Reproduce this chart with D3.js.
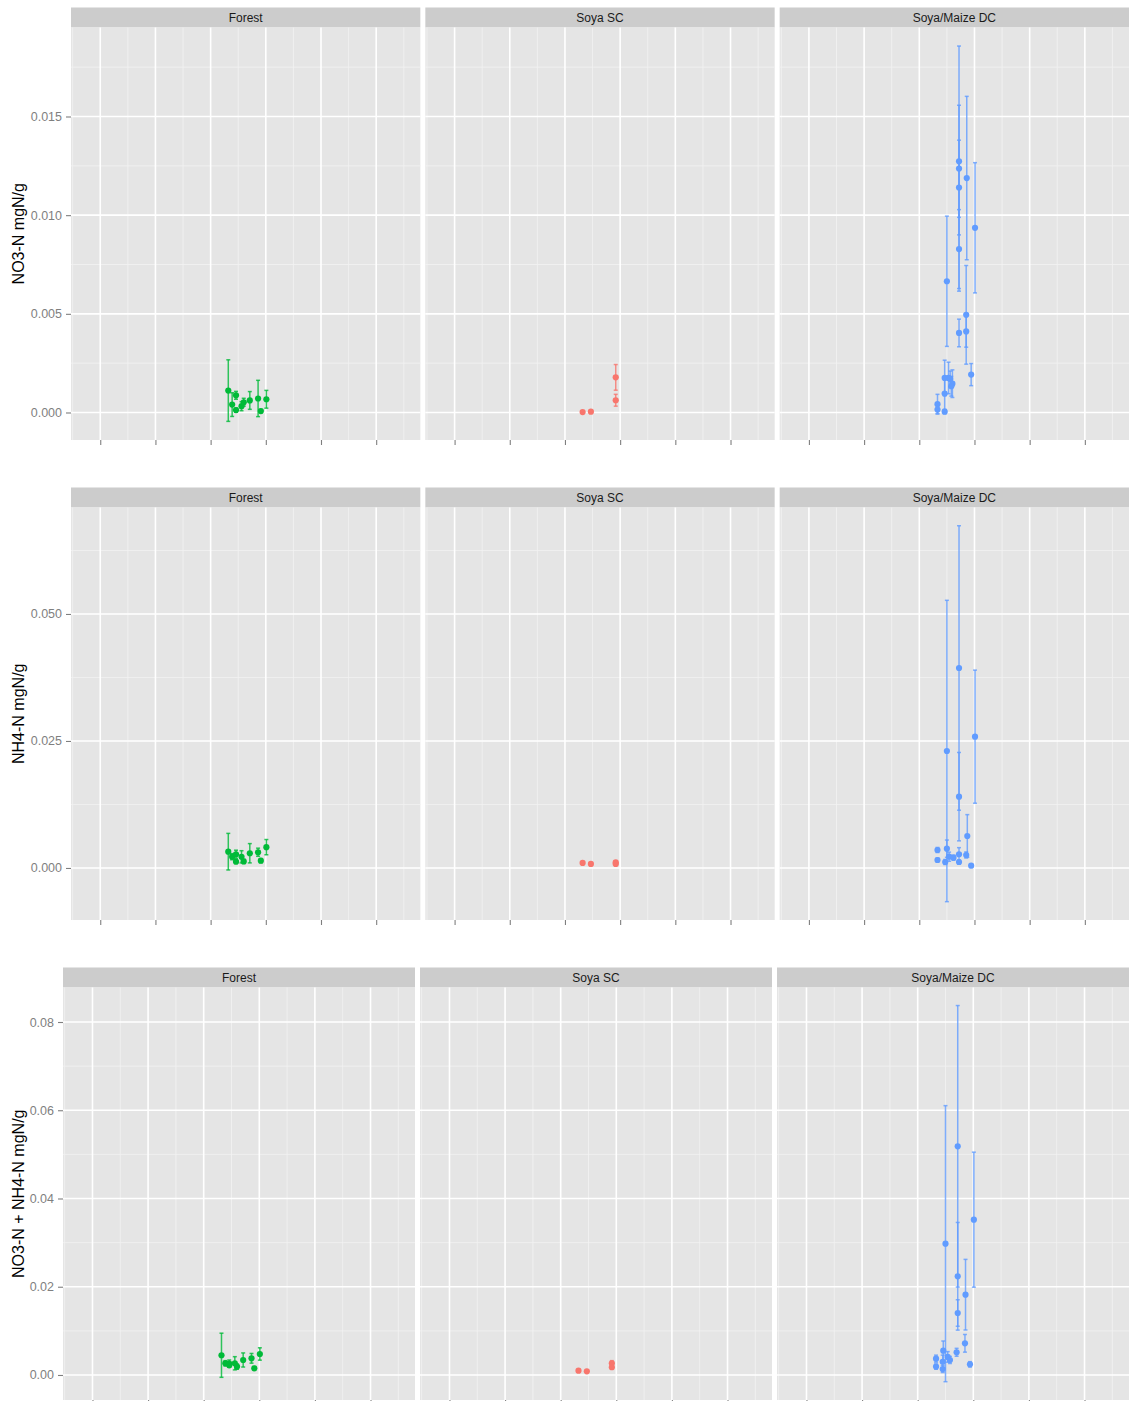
<!DOCTYPE html>
<html>
<head>
<meta charset="utf-8">
<script src="https://cdn.jsdelivr.net/npm/d3@7"></script>
<style>
  body { margin: 0; background: #ffffff; overflow: hidden; }
  svg { display: block; font-family: "Liberation Sans", Arial, Helvetica, sans-serif; }
</style>
</head>
<body>
<svg id="chart" width="1129" height="1401"></svg>
<script>
// Facets (sites) and their colours
const sites = ["Forest", "Soya SC", "Soya/Maize DC"];
const siteColors = ["#00BA38", "#F8766D", "#619CFF"];

// Shared x axis (sampling time); tick labels are blank
const xTicks = [0, 1, 2, 3, 4, 5];
const xTickLabels = ["", "", "", "", "", ""];

// Each entry: [time, mean, error half-width]
// ---- NO3-N (mgN/g)
const no3Forest = [
  [2.32, 0.00111, 0.00156], [2.39, 0.00040, 0.00060], [2.46, 0.00087, 0.00020],
  [2.46, 0.00012, 0.00010], [2.56, 0.00032, 0.00023], [2.60, 0.00052, 0.00020],
  [2.71, 0.00061, 0.00045], [2.86, 0.00071, 0.00092], [2.91, 0.00007, 0.00008],
  [3.01, 0.00067, 0.00045]
];
const no3Soya = [
  [2.32, 0.00002, 0.00003], [2.47, 0.00004, 0.00003],
  [2.92, 0.00178, 0.00065], [2.92, 0.00062, 0.00030]
];
const no3DC = [
  [2.33, 0.00042, 0.00050], [2.33, 0.00015, 0.00020], [2.46, 0.00175, 0.00090],
  [2.46, 0.00096, 0.00080], [2.46, 0.00004, 0.00010], [2.50, 0.00665, 0.00330],
  [2.53, 0.00175, 0.00080], [2.56, 0.00170, 0.00040], [2.60, 0.00146, 0.00070],
  [2.58, 0.00133, 0.00050], [2.72, 0.01273, 0.00284], [2.72, 0.01236, 0.00621],
  [2.72, 0.01140, 0.00240], [2.72, 0.00828, 0.00200], [2.72, 0.00403, 0.00070],
  [2.86, 0.01188, 0.00414], [2.85, 0.00495, 0.00250], [2.85, 0.00411, 0.00080],
  [2.94, 0.00192, 0.00056], [3.01, 0.00936, 0.00330]
];

// ---- NH4-N (mgN/g)
const nh4Forest = [
  [2.32, 0.00321, 0.00360], [2.39, 0.00222, 0.00060], [2.46, 0.00270, 0.00080],
  [2.46, 0.00124, 0.00030], [2.56, 0.00220, 0.00120], [2.60, 0.00130, 0.00040],
  [2.71, 0.00290, 0.00190], [2.86, 0.00310, 0.00080], [2.91, 0.00144, 0.00040],
  [3.01, 0.00410, 0.00150]
];
const nh4Soya = [
  [2.32, 0.00100, 0.00010], [2.47, 0.00080, 0.00010],
  [2.92, 0.00110, 0.00020], [2.92, 0.00080, 0.00010]
];
const nh4DC = [
  [2.33, 0.00354, 0.00050], [2.33, 0.00157, 0.00040], [2.50, 0.02303, 0.02966],
  [2.50, 0.00380, 0.00170], [2.47, 0.00118, 0.00050], [2.54, 0.00222, 0.00090],
  [2.62, 0.00203, 0.00050], [2.72, 0.03937, 0.02800], [2.72, 0.01404, 0.00870],
  [2.72, 0.00270, 0.00130], [2.72, 0.00118, 0.00040], [2.87, 0.00630, 0.00420],
  [2.85, 0.00256, 0.00060], [2.94, 0.00045, 0.00020], [3.01, 0.02585, 0.01310]
];

// ---- NO3-N + NH4-N (mgN/g)
const totForest = [
  [2.32, 0.00447, 0.00500], [2.39, 0.00265, 0.00060], [2.46, 0.00260, 0.00080],
  [2.46, 0.00220, 0.00040], [2.56, 0.00265, 0.00150], [2.60, 0.00190, 0.00060],
  [2.71, 0.00340, 0.00160], [2.86, 0.00378, 0.00110], [2.91, 0.00152, 0.00040],
  [3.01, 0.00476, 0.00140]
];
const totSoya = [
  [2.32, 0.00097, 0.00010], [2.47, 0.00084, 0.00010],
  [2.92, 0.00265, 0.00060], [2.92, 0.00175, 0.00040]
];
const totDC = [
  [2.33, 0.00370, 0.00080], [2.33, 0.00190, 0.00060], [2.46, 0.00550, 0.00220],
  [2.50, 0.02976, 0.03128], [2.45, 0.00300, 0.00150], [2.45, 0.00136, 0.00080],
  [2.54, 0.00410, 0.00120], [2.58, 0.00340, 0.00080], [2.70, 0.00514, 0.00090],
  [2.72, 0.05183, 0.03190], [2.72, 0.02237, 0.01220], [2.72, 0.01405, 0.00300],
  [2.86, 0.01820, 0.00800], [2.85, 0.00718, 0.00200], [2.94, 0.00242, 0.00060],
  [3.01, 0.03520, 0.01530]
];

// y-axis ticks per measure
const no3Ticks = [0, 0.005, 0.010, 0.015];
const nh4Ticks = [0, 0.025, 0.050];
const totTicks = [0, 0.02, 0.04, 0.06, 0.08];

const measures = [
  { title: "NO3-N mgN/g", ticks: no3Ticks, fmt: ".3f", domain: [-0.001394, 0.01951],
    data: [no3Forest, no3Soya, no3DC], left: 71 },
  { title: "NH4-N mgN/g", ticks: nh4Ticks, fmt: ".3f", domain: [-0.01024, 0.07096],
    data: [nh4Forest, nh4Soya, nh4DC], left: 71 },
  { title: "NO3-N + NH4-N mgN/g", ticks: totTicks, fmt: ".2f", domain: [-0.00567, 0.08782],
    data: [totForest, totSoya, totDC], left: 63 }
];

const svg = d3.select("#chart");
const W = 1129;
const rowH = 480;
const stripTop = 7.5, panelTop = 27.5, panelBottom = 440;
const gap = 5;
const xDomain = [-0.53, 5.8];

measures.forEach((m, r) => {
  const row = svg.append("g").attr("transform", `translate(0,${r * rowH})`);
  const pw = (W - m.left - 2 * gap) / 3;
  const y = d3.scaleLinear().domain(m.domain).range([panelBottom, panelTop]);

  // minor y grid at midpoints between ticks
  const yStep = m.ticks[1] - m.ticks[0];
  const yMinor = d3.range(m.ticks[0] - yStep / 2, m.domain[1], yStep)
    .filter(v => v > m.domain[0] && v < m.domain[1]);
  const xMinor = d3.range(-0.5, xDomain[1], 1).filter(v => v > xDomain[0]);

  sites.forEach((site, c) => {
    const px = m.left + c * (pw + gap);
    const x = d3.scaleLinear().domain(xDomain).range([px, px + pw]);
    const g = row.append("g");

    // strip
    g.append("rect").attr("x", px).attr("y", stripTop).attr("width", pw)
      .attr("height", panelTop - stripTop).attr("fill", "#cccccc");
    g.append("text").attr("x", px + pw / 2).attr("y", (stripTop + panelTop) / 2)
      .attr("dy", "0.35em").attr("text-anchor", "middle")
      .attr("font-size", 12).attr("fill", "#1a1a1a").text(site);

    // panel background
    g.append("rect").attr("x", px).attr("y", panelTop).attr("width", pw)
      .attr("height", panelBottom - panelTop).attr("fill", "#e5e5e5");

    // minor grid
    g.selectAll(".ymin").data(yMinor).join("line")
      .attr("x1", px).attr("x2", px + pw).attr("y1", d => y(d)).attr("y2", d => y(d))
      .attr("stroke", "#f2f2f2").attr("stroke-width", 0.8);
    g.selectAll(".xmin").data(xMinor).join("line")
      .attr("y1", panelTop).attr("y2", panelBottom).attr("x1", d => x(d)).attr("x2", d => x(d))
      .attr("stroke", "#f2f2f2").attr("stroke-width", 0.8);

    // major grid
    g.selectAll(".ymaj").data(m.ticks).join("line")
      .attr("x1", px).attr("x2", px + pw).attr("y1", d => y(d)).attr("y2", d => y(d))
      .attr("stroke", "#ffffff").attr("stroke-width", 1.6);
    g.selectAll(".xmaj").data(xTicks).join("line")
      .attr("y1", panelTop).attr("y2", panelBottom).attr("x1", d => x(d)).attr("x2", d => x(d))
      .attr("stroke", "#ffffff").attr("stroke-width", 1.6);

    // x axis: tick marks only
    const xAxis = d3.axisBottom(x).tickValues(xTicks)
      .tickFormat((d, i) => xTickLabels[i]).tickSizeOuter(0).tickSize(5);
    const xa = g.append("g").attr("transform", `translate(0,${panelBottom})`).call(xAxis);
    xa.select(".domain").remove();
    xa.selectAll(".tick line").attr("stroke", "#7f7f7f").attr("stroke-width", 1.1);

    // error bars and points
    const col = siteColors[c];
    const data = m.data[c];
    const cap = 2;
    const eb = g.append("g").attr("stroke", col).attr("stroke-width", 1.5)
      .attr("stroke-opacity", 0.8).attr("fill", "none");
    data.forEach(([t, v, e]) => {
      const cx = x(t);
      eb.append("line").attr("x1", cx).attr("x2", cx).attr("y1", y(v + e)).attr("y2", y(v - e));
      eb.append("line").attr("x1", cx - cap).attr("x2", cx + cap).attr("y1", y(v + e)).attr("y2", y(v + e));
      eb.append("line").attr("x1", cx - cap).attr("x2", cx + cap).attr("y1", y(v - e)).attr("y2", y(v - e));
    });
    g.append("g").selectAll("circle").data(data).join("circle")
      .attr("cx", d => x(d[0])).attr("cy", d => y(d[1])).attr("r", 3.1)
      .attr("fill", col);

    // y axis on first facet
    if (c === 0) {
      const yAxis = d3.axisLeft(y).tickValues(m.ticks).tickFormat(d3.format(m.fmt))
        .tickSizeOuter(0).tickSize(5).tickPadding(4);
      const ya = g.append("g").attr("transform", `translate(${px},0)`).call(yAxis);
      ya.select(".domain").remove();
      ya.selectAll(".tick line").attr("stroke", "#7f7f7f").attr("stroke-width", 1.1);
      ya.selectAll(".tick text").attr("fill", "#7f7f7f").attr("font-size", 12.5)
        .attr("font-family", "Liberation Sans, Arial, sans-serif");
    }
  });

  // y title
  row.append("text")
    .attr("transform", `translate(18,${(panelTop + panelBottom) / 2}) rotate(-90)`)
    .attr("text-anchor", "middle").attr("dy", "0.35em")
    .attr("font-size", 16).attr("fill", "#000000").text(m.title);
});
</script>
</body>
</html>
